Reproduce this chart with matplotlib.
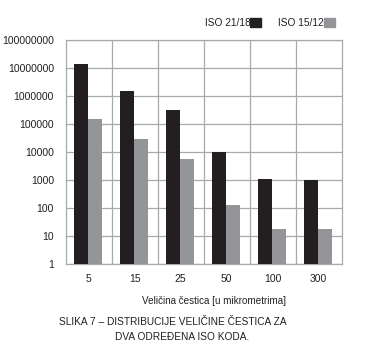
import numpy as np
import matplotlib
matplotlib.use("Agg")
import matplotlib.pyplot as plt
from matplotlib.patches import Rectangle

# particle counts per size class for the two ISO cleanliness codes
sizes = ["5", "15", "25", "50", "100", "300"]
iso_21_18 = [1.5e7, 1.55e6, 3.2e5, 1.0e4, 1.07e3, 1.05e3]
iso_15_12 = [1.6e5, 3.1e4, 5.6e3, 125, 17, 17.5]
series_names = ["ISO 21/18", "ISO 15/12"]
ytick_values = [1, 10, 100, 1000, 10000, 100000, 1000000, 10000000, 100000000]

DARK = "#231f20"
GREY = "#939598"
GRID = "#a7a9ac"

plt.rcParams["font.family"] = ["Liberation Sans", "DejaVu Sans"]

fig = plt.figure(figsize=(3.66, 3.5), dpi=100)
ax = fig.add_axes([0.1795, 0.2457, 0.7541, 0.6386])

x = np.arange(len(sizes))
ax.bar(x - 0.01, iso_21_18, width=-0.32, align="edge", color=DARK, bottom=1, zorder=3)
ax.bar(x - 0.01, iso_15_12, width=0.31, align="edge", color=GREY, bottom=1, zorder=3)

ax.set_yscale("log")
ax.set_ylim(1, 1e8)
ax.set_xlim(-0.5, len(sizes) - 0.5)
ax.set_yticks(ytick_values)
ax.set_yticklabels([str(v) for v in ytick_values])
ax.yaxis.set_minor_locator(matplotlib.ticker.NullLocator())
ax.set_xticks(x)
ax.set_xticklabels(sizes)
ax.set_xticks(np.arange(0.5, len(sizes) - 0.5, 1), minor=True)

ax.tick_params(axis="y", length=0, pad=8.5, labelsize=7.5, labelcolor=DARK)
ax.tick_params(axis="x", which="both", length=0, pad=7, labelsize=7.5, labelcolor=DARK)
ax.grid(axis="y", which="major", color=GRID, lw=0.9, zorder=0)
ax.grid(axis="x", which="minor", color=GRID, lw=0.9, zorder=0)
for sp in ax.spines.values():
    sp.set_color(GRID)
    sp.set_linewidth(0.9)

fig.text(214 / 366, 1 - 301.5 / 350, "Veličina čestica [u mikrometrima]",
         ha="center", va="center", fontsize=7.1, color=DARK)

# caption under the chart
fig.text(173 / 366, 1 - 321.7 / 350, "SLIKA 7 – DISTRIBUCIJE VELIČINE ČESTICA ZA",
         ha="center", va="center", fontsize=7.3, color=DARK)
fig.text(182 / 366, 1 - 336.7 / 350, "DVA ODREĐENA ISO KODA.",
         ha="center", va="center", fontsize=7.3, color=DARK)

# legend: label followed by a colour square
legend_items = [(205, 250, DARK), (278, 324, GREY)]
for name, (tx, sx, col) in zip(series_names, legend_items):
    fig.text(tx / 366, 1 - 22.5 / 350, name, ha="left", va="center",
             fontsize=7.3, color=DARK)
    fig.patches.append(Rectangle((sx / 366, 1 - 27 / 350), 11 / 366, 9.5 / 350,
                                 transform=fig.transFigure, color=col))

fig.savefig("out.png", dpi=100)
